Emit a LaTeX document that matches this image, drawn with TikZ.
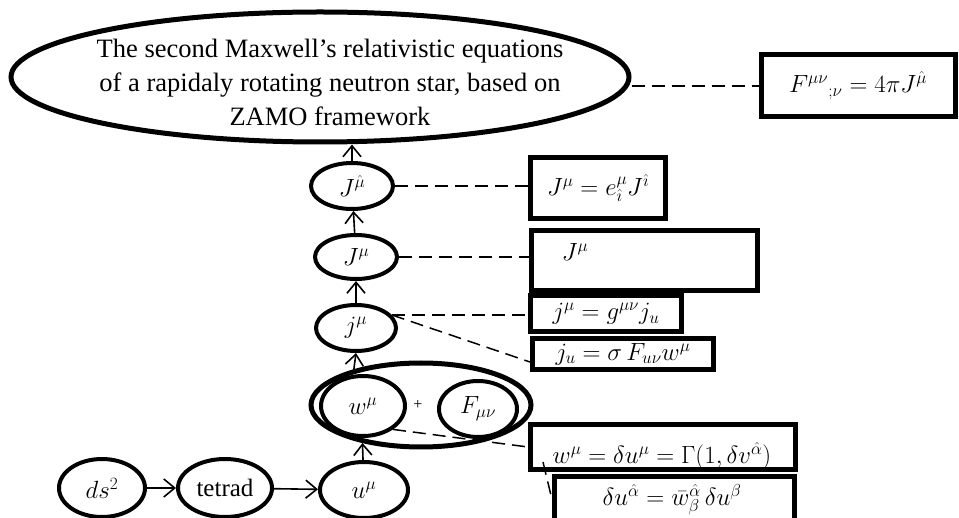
\documentclass[tikz,border=0pt]{standalone}
\usepackage{fontspec}
\setmainfont{Liberation Serif}
\usetikzlibrary{shapes.geometric,arrows.meta}

\tikzset{
    >={Straight Barb[length=11pt,width=18pt]},
    every node/.style={font=\fontsize{24}{35}\selectfont},
    oval/.style={ellipse, draw, line width=4pt, inner sep=0pt},
    eqbox/.style={rectangle, draw, line width=5pt, inner sep=0pt},
    flow/.style={->, line width=1.6pt},
    link/.style={line width=1.5pt, dash pattern=on 13pt off 7pt}
}

\begin{document}
\begin{tikzpicture}[x=1pt, y=-1pt]
    % Frame of the picture
    \useasboundingbox (0,0) rectangle (959,518);
    \clip (0,0) rectangle (959,518);

    % Chain of quantities
    \node[oval, line width=5pt, minimum width=618, minimum height=130] (title) at (320,77) {};
    \node[align=center, font=\fontsize{26.5}{34}\selectfont] (titletext) at (330,82)
        {The second Maxwell’s relativistic equations\\ of a rapidaly rotating neutron star, based on\\ ZAMO framework};
    \node[oval, minimum width=82, minimum height=46] (Jh) at (352,186) {$J^{\hat{\mu}}$};
    \node[oval, minimum width=82, minimum height=44] (Jl) at (356,257) {$J^{\mu}$};
    \node[oval, minimum width=80, minimum height=46] (jl) at (356,328) {$j^{\mu}$};

    % Velocity and field
    \node[oval, line width=5pt, minimum width=220, minimum height=84] (grp) at (421,405) {};
    \node[oval, minimum width=84, minimum height=60] (w) at (363,406) {$w^{\mu}$};
    \node[oval, minimum width=78, minimum height=56] (F) at (478,409) {$F_{\mu\nu}$};
    \node (plus) at (418,405) {\fontsize{16}{16}\selectfont +};

    % Bottom row
    \node[oval, minimum width=86, minimum height=58] (ds) at (102,488) {$ds^{2}$};
    \node[oval, minimum width=94, minimum height=58, font=\fontsize{25}{30}\selectfont] (tet) at (225,488) {tetrad};
    \node[oval, minimum width=88, minimum height=56] (u) at (364,490) {$u^{\mu}$};

    % Equation boxes
    \node[eqbox, minimum width=194, minimum height=62] (bF) at (858,86) {$F^{\mu\nu}{}_{;\nu} = 4\pi J^{\hat{\mu}}$};
    \node[eqbox, minimum width=135, minimum height=61] (b1) at (598,188) {$J^{\mu} = e^{\mu}_{\hat{\imath}} J^{\hat{\imath}}$};
    \node[eqbox, minimum width=226, minimum height=60] (b2) at (644,261) {};
    \node (b2t) at (575,252) {$J^{\mu}$};
    \node[eqbox, minimum width=151, minimum height=36] (b3) at (606,314) {$j^{\mu} = g^{\mu\nu} j_{u}$};
    \node[eqbox, minimum width=181, minimum height=31] (b4) at (623,354) {$j_{u} = \sigma\, F_{u\nu} w^{\mu}$};
    \node[eqbox, minimum width=265, minimum height=45] (b5) at (663,447) {};
    \node (b5t) at (662,456) {$w^{\mu} = \delta u^{\mu} = \Gamma(1,\delta v^{\hat{\alpha}})$};
    \node[eqbox, minimum width=240, minimum height=70] (b6) at (674,512) {};
    \node (b6t) at (672,500) {$\delta u^{\hat{\alpha}} = \bar{w}_{\beta}^{\hat{\alpha}}\, \delta u^{\beta}$};

    % Arrows
    \draw[flow] (ds) -- (tet);
    \draw[flow] (tet) -- (u);
    \draw[flow] (u) -- (grp.213);
    \draw[flow] (grp.152) -- (jl.south);
    \draw[flow] (jl) -- (Jl);
    \draw[flow] (Jl) -- (Jh);
    \draw[flow] (Jh) -- (Jh |- title.south);

    % Dashed links
    \draw[link] (title.east |- bF.west) -- (bF.west);
    \draw[link] (Jh.east) -- (Jh.east -| b1.west);
    \draw[link] (Jl.east) -- (Jl.east -| b2.west);
    \draw[link] (jl.20) -- (jl.20 -| b3.west);
    \draw[link] (jl.20) -- ([yshift=-8pt]b4.west);
    \draw[link] (w.-38) -- (b5.west);
    \coordinate (b5c) at (543,462);
    \draw[link] (b5c) -- ([yshift=-23pt]b6.north west);
\end{tikzpicture}
\end{document}
